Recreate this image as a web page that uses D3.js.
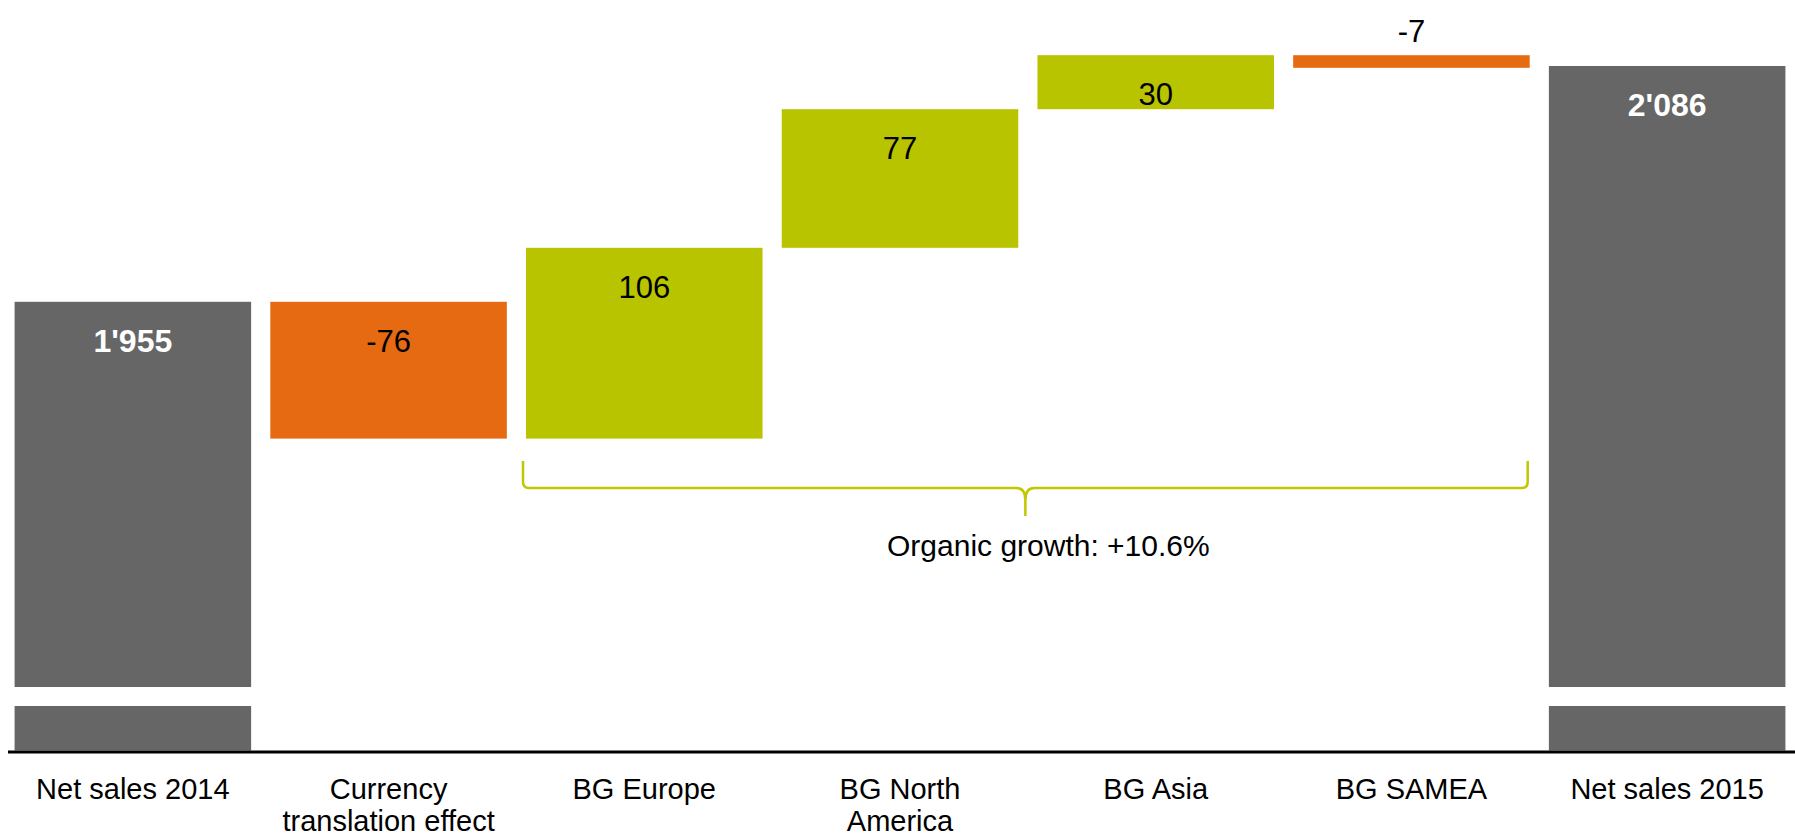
<!DOCTYPE html>
<html>
<head>
<meta charset="utf-8">
<script src="https://cdn.jsdelivr.net/npm/d3@7"></script>
<style>
  html, body { margin: 0; padding: 0; background: #ffffff; }
  svg { display: block; font-family: "Liberation Sans", Arial, sans-serif; }
</style>
</head>
<body>
<svg id="chart" width="1795" height="839"></svg>
<script>
// ---- data ----
const categories = ["Net sales 2014", "Currency translation effect", "BG Europe", "BG North America", "BG Asia", "BG SAMEA", "Net sales 2015"];
const categoryLines = [["Net sales 2014"], ["Currency", "translation effect"], ["BG Europe"], ["BG North", "America"], ["BG Asia"], ["BG SAMEA"], ["Net sales 2015"]];
const values = [1955, -76, 106, 77, 30, -7, 2086];
const barTypes = ["total", "delta", "delta", "delta", "delta", "delta", "total"];
const valueLabels = ["1'955", "-76", "106", "77", "30", "-7", "2'086"];
const bracketFrom = "BG Europe";
const bracketTo = "BG SAMEA";
const bracketLabel = "Organic growth: +10.6%";
const axisBreakValue = 1741;   // value at which the axis is broken
const yTopValue = 2086;

// ---- layout ----
const W = 1795, H = 839;
const axisY = 752;
const colors = { total: "#666666", pos: "#B9C400", neg: "#E66A12", bracket: "#BFC800" };

const svg = d3.select("#chart");

const x = d3.scaleBand().domain(categories).range([5, 1795]).paddingInner(0.075).paddingOuter(0.0375);
const y = d3.scaleLinear().domain([axisBreakValue, yTopValue]).range([687, 66]);

// compute waterfall segments
let running = 0;
const bars = categories.map((c, i) => {
  const v = values[i];
  let lo, hi, kind;
  if (barTypes[i] === "total") {
    running = v;
    lo = axisBreakValue; hi = v; kind = "total";
  } else {
    const start = running;
    running = start + v;
    lo = Math.min(start, running); hi = Math.max(start, running);
    kind = v >= 0 ? "pos" : "neg";
  }
  return { c, v, lo, hi, kind, label: valueLabels[i], lines: categoryLines[i] };
});

// bars
svg.selectAll("rect.bar").data(bars).enter().append("rect")
  .attr("class", "bar")
  .attr("x", d => x(d.c))
  .attr("width", x.bandwidth())
  .attr("y", d => y(d.hi))
  .attr("height", d => y(d.lo) - y(d.hi))
  .attr("fill", d => colors[d.kind]);

// stubs below the axis break for totals
const stubTop = 706;
svg.selectAll("rect.stub").data(bars.filter(d => d.kind === "total")).enter().append("rect")
  .attr("class", "stub")
  .attr("x", d => x(d.c))
  .attr("width", x.bandwidth())
  .attr("y", stubTop)
  .attr("height", axisY - 1.5 - stubTop)
  .attr("fill", colors.total);

// value labels
svg.selectAll("text.val").data(bars).enter().append("text")
  .attr("class", "val")
  .attr("x", d => x(d.c) + x.bandwidth() / 2)
  .attr("y", d => {
    const h = y(d.lo) - y(d.hi);
    return h < 40 ? y(d.hi) - 13 : y(d.hi) + 50;
  })
  .attr("text-anchor", "middle")
  .attr("font-size", d => d.kind === "total" ? 32 : 31)
  .attr("font-weight", d => d.kind === "total" ? "bold" : "normal")
  .attr("fill", d => d.kind === "total" ? "#ffffff" : "#000000")
  .text(d => d.label);

// axis line
svg.append("line")
  .attr("x1", 8).attr("x2", W)
  .attr("y1", axisY).attr("y2", axisY)
  .attr("stroke", "#000").attr("stroke-width", 3);

// category labels
const cat = svg.selectAll("text.cat").data(bars).enter().append("text")
  .attr("class", "cat")
  .attr("text-anchor", "middle")
  .attr("font-size", 29)
  .attr("fill", "#000");
cat.selectAll("tspan").data(d => d.lines.map(l => ({ l, c: d.c }))).enter().append("tspan")
  .attr("x", d => x(d.c) + x.bandwidth() / 2)
  .attr("y", (d, i) => 799 + i * 32)
  .text(d => d.l);

// bracket
const bx0 = x(bracketFrom) - 3;
const bx1 = x(bracketTo) + x.bandwidth() - 2;
const cx = (bx0 + bx1) / 2;
const bTop = 461, bLine = 488, bTip = 516, r = 6;
const p = d3.path();
p.moveTo(bx0, bTop);
p.lineTo(bx0, bLine - r);
p.quadraticCurveTo(bx0, bLine, bx0 + r, bLine);
p.lineTo(cx - 9, bLine);
p.quadraticCurveTo(cx, bLine, cx, bLine + 12);
p.lineTo(cx, bTip);
p.moveTo(cx, bLine + 12);
p.quadraticCurveTo(cx, bLine, cx + 9, bLine);
p.lineTo(bx1 - r, bLine);
p.quadraticCurveTo(bx1, bLine, bx1, bLine - r);
p.lineTo(bx1, bTop);
svg.append("path")
  .attr("d", p.toString())
  .attr("fill", "none")
  .attr("stroke", colors.bracket)
  .attr("stroke-width", 2.5);

svg.append("text")
  .attr("x", cx + 23)
  .attr("y", 556)
  .attr("text-anchor", "middle")
  .attr("font-size", 30)
  .attr("fill", "#000")
  .text(bracketLabel);
</script>
</body>
</html>
